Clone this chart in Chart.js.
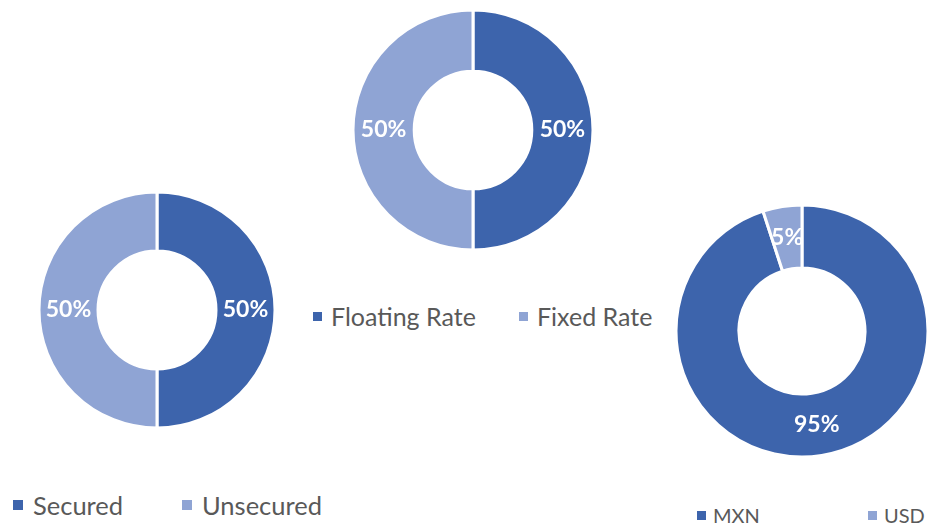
<!DOCTYPE html>
<html>
<head>
<meta charset="utf-8">
<script src="https://cdn.jsdelivr.net/npm/chart.js@4.4.0/dist/chart.umd.min.js"></script>
<style>
  html, body { margin: 0; padding: 0; background: #fff; overflow: hidden; }
  body { width: 928px; height: 525px; position: relative; font-family: Lato, "Open Sans", sans-serif; }
  canvas { position: absolute; }
  .legend { position: absolute; margin: 0; padding: 0; list-style: none; display: flex; color: #595959; }
  .legend li { display: flex; align-items: center; white-space: nowrap; }
  .legend .swatch { display: inline-block; flex: none; }

  #rateChart { left: 343px; top: 0; }
  #rateLegend { left: 313px; top: 302px; font-size: 25px; line-height: 28px; }
  #rateLegend li { width: 206px; }
  #rateLegend .swatch { width: 9px; height: 9px; margin-right: 9px; }

  #securityChart { left: 27px; top: 180px; }
  #securityLegend { left: 13px; top: 491px; font-size: 25.5px; line-height: 28px; }
  #securityLegend li { width: 169px; }
  #securityLegend .swatch { width: 10px; height: 10px; margin-right: 10px; }

  #currencyChart { left: 676px; top: 201px; }
  #currencyLegend { left: 697px; top: 503px; font-size: 20px; line-height: 24px; }
  #currencyLegend li { width: 171px; }
  #currencyLegend .swatch { width: 9px; height: 9px; margin-right: 7px; }
</style>
</head>
<body>
<canvas id="rateChart" width="260" height="260"></canvas>
<ul id="rateLegend" class="legend"></ul>

<canvas id="securityChart" width="260" height="260"></canvas>
<ul id="securityLegend" class="legend"></ul>

<canvas id="currencyChart" width="252" height="260"></canvas>
<ul id="currencyLegend" class="legend"></ul>

<script>
// interest rate type split
const rateLabels = ['Floating Rate', 'Fixed Rate'];
const rateShares = [50, 50];

// secured vs unsecured debt
const securityLabels = ['Secured', 'Unsecured'];
const securityShares = [50, 50];

// currency of the debt
const currencyLabels = ['MXN', 'USD'];
const currencyShares = [95, 5];

const darkBlue = '#3d64ac';
const lightBlue = '#8fa4d4';

// white "NN%" text in the middle of each slice
const sliceLabels = {
    id: 'sliceLabels',
    afterDatasetsDraw(chart, args, opts) {
        const ctx = chart.ctx;
        const values = chart.data.datasets[0].data;
        ctx.save();
        ctx.font = 'bold ' + opts.size + 'px Lato, "Open Sans", sans-serif';
        ctx.fillStyle = '#fff';
        ctx.textAlign = 'center';
        ctx.textBaseline = 'middle';
        chart.getDatasetMeta(0).data.forEach((arc, i) => {
            const pos = arc.tooltipPosition(true);
            ctx.fillText(values[i] + '%', pos.x, pos.y);
        });
        ctx.restore();
    }
};

// legend as a list under each doughnut, built from the chart's own legend items
const htmlLegend = {
    id: 'htmlLegend',
    afterUpdate(chart, args, opts) {
        const list = document.getElementById(opts.containerID);
        list.innerHTML = '';
        const items = chart.options.plugins.legend.labels.generateLabels(chart);
        items.forEach(item => {
            const li = document.createElement('li');
            const box = document.createElement('span');
            box.className = 'swatch';
            box.style.background = item.fillStyle;
            const text = document.createElement('span');
            text.textContent = item.text;
            li.appendChild(box);
            li.appendChild(text);
            list.appendChild(li);
        });
    }
};

function makeDonut(canvasId, legendId, labels, values, radius, cutout, labelSize) {
    return new Chart(document.getElementById(canvasId), {
        type: 'doughnut',
        data: {
            labels: labels,
            datasets: [{
                data: values,
                backgroundColor: [darkBlue, lightBlue],
                borderColor: '#fff',
                borderWidth: 3
            }]
        },
        options: {
            responsive: false,
            animation: false,
            radius: radius,
            cutout: cutout,
            plugins: {
                legend: { display: false },
                tooltip: { enabled: false },
                htmlLegend: { containerID: legendId },
                sliceLabels: { size: labelSize }
            }
        },
        plugins: [sliceLabels, htmlLegend]
    });
}

makeDonut('rateChart', 'rateLegend', rateLabels, rateShares, 120, '49%', 23);
makeDonut('securityChart', 'securityLegend', securityLabels, securityShares, 118, '50%', 23);
makeDonut('currencyChart', 'currencyLegend', currencyLabels, currencyShares, 126, '50%', 23);
</script>
</body>
</html>
